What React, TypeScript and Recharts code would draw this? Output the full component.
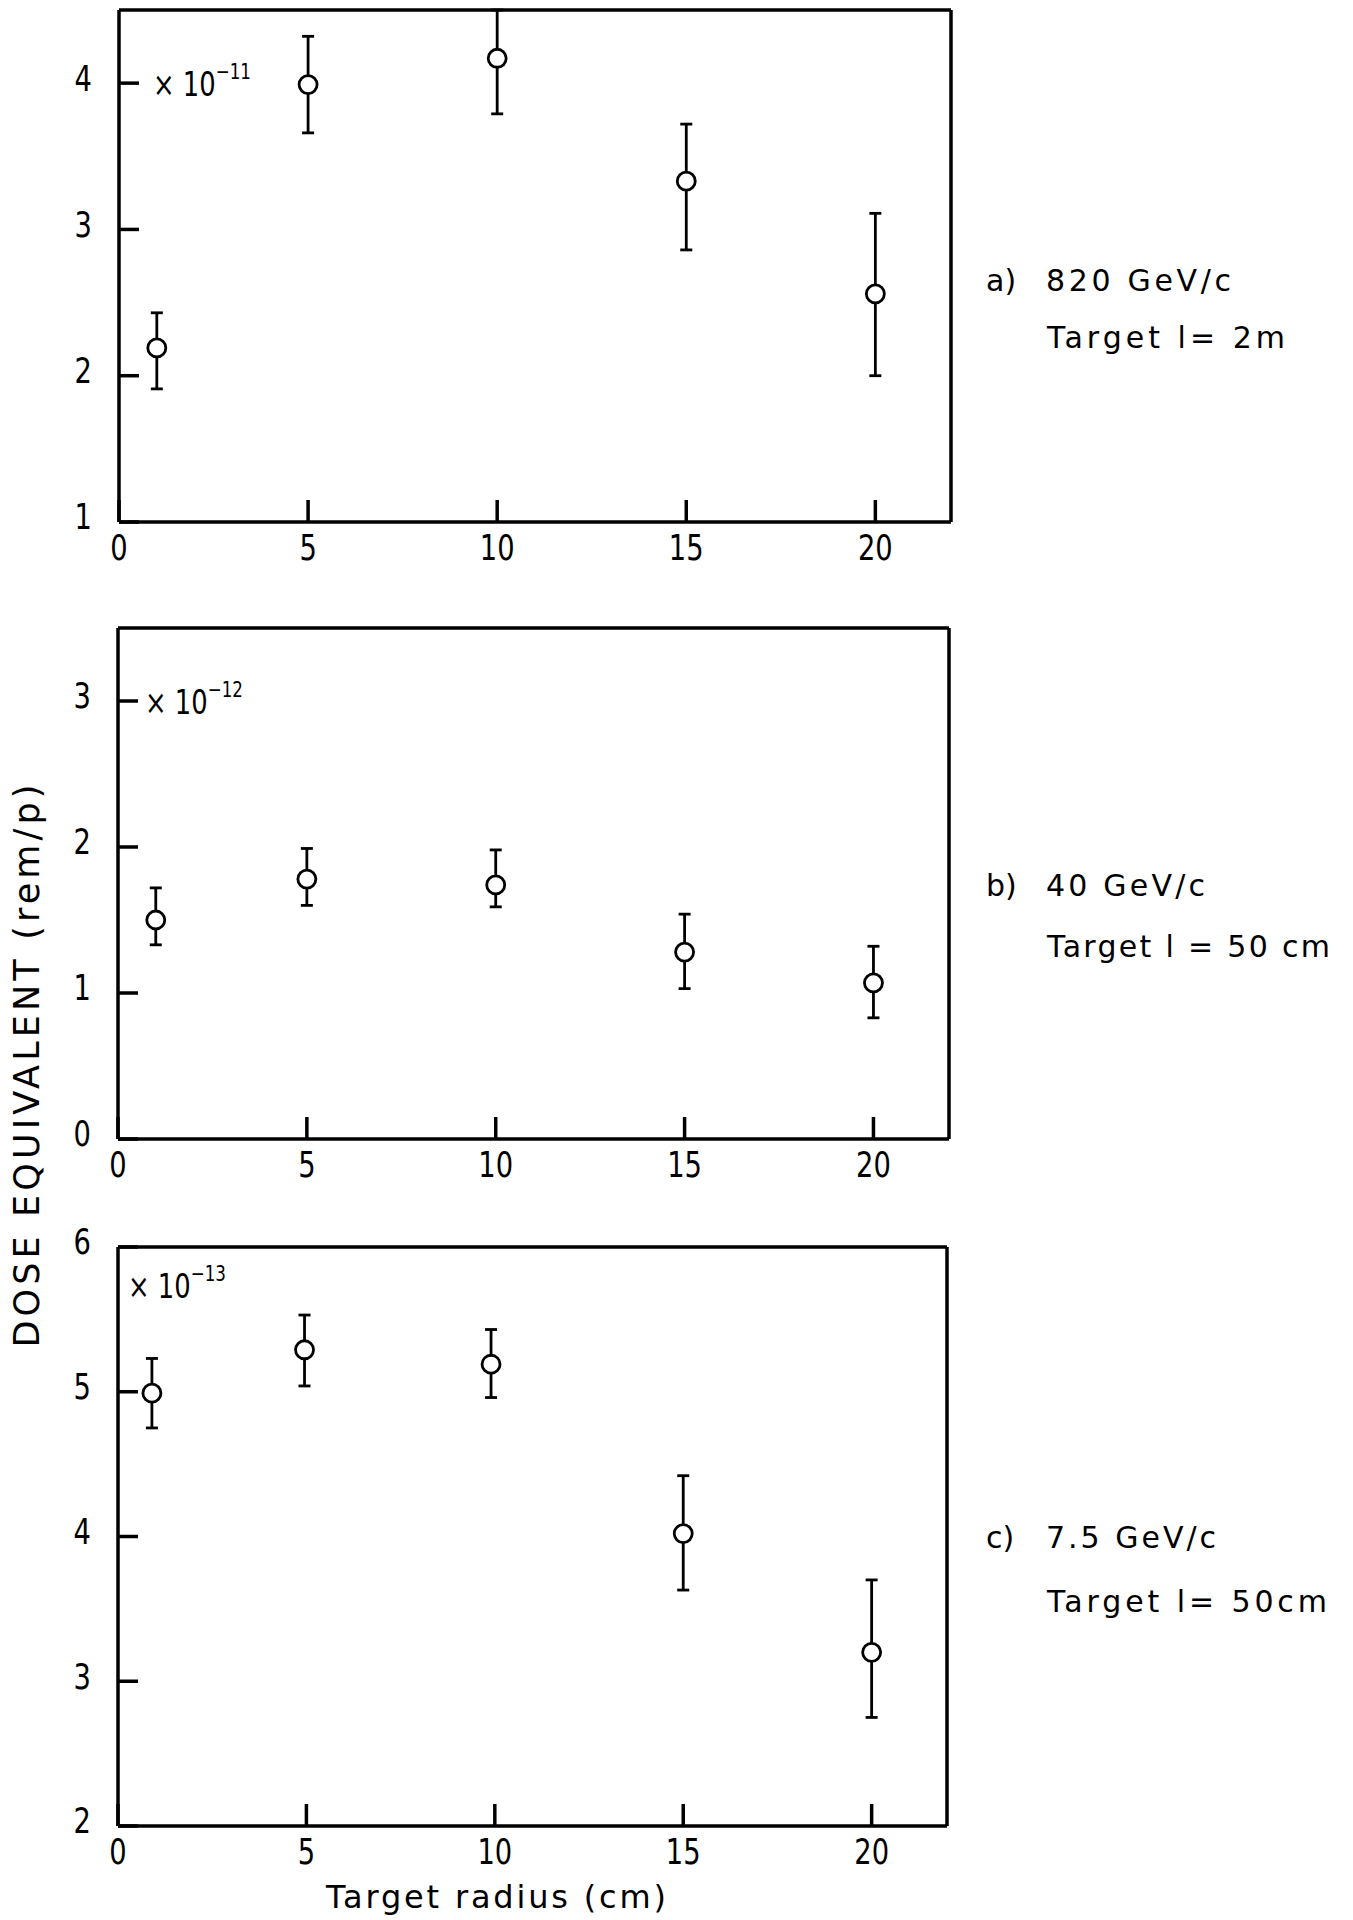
import { ScatterChart, Scatter, XAxis, YAxis, ErrorBar } from "recharts";

// a) 820 GeV/c, target l = 2 m   (x 10^-11 rem/p)
const radiusA = [1, 5, 10, 15, 20];
const doseA = [2.19, 3.99, 4.17, 3.33, 2.56];
const lowA = [1.91, 3.66, 3.79, 2.86, 2.0];
const highA = [2.43, 4.32, 4.5, 3.72, 3.11];

// b) 40 GeV/c, target l = 50 cm   (x 10^-12 rem/p)
const radiusB = [1, 5, 10, 15, 20];
const doseB = [1.5, 1.78, 1.74, 1.28, 1.07];
const lowB = [1.33, 1.6, 1.59, 1.03, 0.83];
const highB = [1.72, 1.99, 1.98, 1.54, 1.32];

// c) 7.5 GeV/c, target l = 50 cm   (x 10^-13 rem/p)
const radiusC = [0.9, 4.95, 9.9, 15, 20];
const doseC = [4.99, 5.29, 5.19, 4.02, 3.2];
const lowC = [4.75, 5.04, 4.96, 3.63, 2.75];
const highC = [5.23, 5.53, 5.43, 4.42, 3.7];

const xTicks = [0, 5, 10, 15, 20];
const xTicksInner = [5, 10, 15, 20];
const yTicksA = [1, 2, 3, 4];
const yTicksB = [0, 1, 2, 3];
const yTicksC = [2, 3, 4, 5, 6];

const FONT = "'DejaVu Sans', sans-serif";
const INK = "#000";

function buildRows(xs: number[], ys: number[], lo: number[], hi: number[]) {
  return xs.map((x, i) => ({ x, y: ys[i], err: [ys[i] - lo[i], hi[i] - ys[i]] }));
}

const makeTick = (anchor: "end" | "middle", dy: number) => (props: any) => {
  const { x, y, payload } = props;
  return (
    <g transform={`translate(${x},${y})`}>
      <text
        transform="scale(0.76,1)"
        textAnchor={anchor}
        dominantBaseline="central"
        dy={dy}
        fontSize={36}
        fontFamily={FONT}
        fill={INK}
      >
        {payload.value}
      </text>
    </g>
  );
};

const leftTick = makeTick("end", -5);
const bottomTick = makeTick("middle", 0);

const Ring = (p: any) => (
  <circle cx={p.cx} cy={p.cy} r={9} fill="#fff" stroke={INK} strokeWidth={2.8} />
);

interface PanelProps {
  rows: { x: number; y: number; err: number[] }[];
  yDomain: [number, number];
  yTicks: number[];
  left: number;
  right: number;
  top: number;
  bottom: number;
}

function Panel({ rows, yDomain, yTicks, left, right, top, bottom }: PanelProps) {
  const W = 1353;
  const H = bottom - top + 140;
  const line = { stroke: INK, strokeWidth: 3.5 };
  return (
    <div style={{ position: "absolute", left: 0, top: top - 40 }}>
      <ScatterChart
        width={W}
        height={H}
        margin={{ top: 30, left: left - 80, right: W - right - 10, bottom: 40 }}
      >
        <XAxis
          xAxisId="b"
          dataKey="x"
          type="number"
          domain={[0, 22]}
          ticks={xTicks}
          interval={0}
          allowDataOverflow
          height={60}
          tickSize={-22}
          tickMargin={48}
          axisLine={line}
          tickLine={line}
          tick={bottomTick}
        />
        <XAxis
          xAxisId="t"
          orientation="top"
          type="number"
          domain={[0, 22]}
          ticks={xTicksInner}
          interval={0}
          allowDataOverflow
          height={10}
          tickSize={-22}
          axisLine={line}
          tickLine={line}
          tick={false}
        />
        <YAxis
          yAxisId="l"
          dataKey="y"
          type="number"
          domain={yDomain}
          ticks={yTicks}
          interval={0}
          allowDataOverflow
          width={80}
          tickSize={-20}
          tickMargin={47}
          axisLine={line}
          tickLine={line}
          tick={leftTick}
        />
        <YAxis
          yAxisId="r"
          orientation="right"
          type="number"
          domain={yDomain}
          ticks={yTicks}
          interval={0}
          allowDataOverflow
          width={10}
          tickSize={-20}
          axisLine={line}
          tickLine={line}
          tick={false}
        />
        <Scatter
          data={rows}
          xAxisId="b"
          yAxisId="l"
          shape={Ring}
          isAnimationActive={false}
        >
          <ErrorBar
            dataKey="err"
            direction="y"
            width={6}
            stroke={INK}
            strokeWidth={2.8}
            isAnimationActive={false}
          />
        </Scatter>
      </ScatterChart>
    </div>
  );
}

function Multiplier({ x, y, exp }: { x: number; y: number; exp: string }) {
  return (
    <g transform={`translate(${x},${y})`}>
      <text transform="scale(0.76,1)" dominantBaseline="central" fontSize={34} fontFamily={FONT} fill={INK}>
        × 10
        <tspan dy={-13} fontSize={22}>
          {exp}
        </tspan>
      </text>
    </g>
  );
}

function Note({ tag, beam, target, y1, y2, beamLen, targetLen }: any) {
  const common = { fontSize: 30, fontFamily: FONT, fill: INK, dominantBaseline: "central" as const };
  return (
    <g>
      <text x={986} y={y1} {...common}>
        {tag}
      </text>
      <text x={1046} y={y1} {...common} textLength={beamLen} lengthAdjust="spacing">
        {beam}
      </text>
      <text x={1047} y={y2} {...common} textLength={targetLen} lengthAdjust="spacing">
        {target}
      </text>
    </g>
  );
}

export default function App() {
  return (
    <div style={{ position: "relative", width: 1353, height: 1920, background: "#fff", overflow: "hidden" }}>
      <style>{"body{margin:0}"}</style>
      <Panel
        rows={buildRows(radiusA, doseA, lowA, highA)}
        yDomain={[1, 4.5]}
        yTicks={yTicksA}
        left={119}
        right={951}
        top={10}
        bottom={522}
      />
      <Panel
        rows={buildRows(radiusB, doseB, lowB, highB)}
        yDomain={[0, 3.5]}
        yTicks={yTicksB}
        left={118}
        right={949}
        top={628}
        bottom={1139}
      />
      <Panel
        rows={buildRows(radiusC, doseC, lowC, highC)}
        yDomain={[2, 6]}
        yTicks={yTicksC}
        left={118}
        right={947}
        top={1247}
        bottom={1826}
      />
      <svg
        width={1353}
        height={1920}
        style={{ position: "absolute", left: 0, top: 0, pointerEvents: "none" }}
      >
        <Multiplier x={153} y={84} exp="−11" />
        <Multiplier x={145} y={702} exp="−12" />
        <Multiplier x={128} y={1286} exp="−13" />
        <Note tag="a)" beam="820 GeV/c" target="Target l= 2m" y1={280} y2={337} beamLen={185} targetLen={238} />
        <Note tag="b)" beam="40 GeV/c" target="Target l = 50 cm" y1={885} y2={946} beamLen={159} targetLen={283} />
        <Note tag="c)" beam="7.5 GeV/c" target="Target l= 50cm" y1={1537} y2={1601} beamLen={170} targetLen={280} />
        <text
          transform="translate(27,1066) rotate(-90)"
          textAnchor="middle"
          dominantBaseline="central"
          fontSize={35}
          fontFamily={FONT}
          fill={INK}
          textLength={563}
          lengthAdjust="spacing"
        >
          DOSE EQUIVALENT (rem/p)
        </text>
        <text
          x={496}
          y={1897}
          textAnchor="middle"
          dominantBaseline="central"
          fontSize={32}
          fontFamily={FONT}
          fill={INK}
          textLength={340}
          lengthAdjust="spacing"
        >
          Target radius (cm)
        </text>
      </svg>
    </div>
  );
}
